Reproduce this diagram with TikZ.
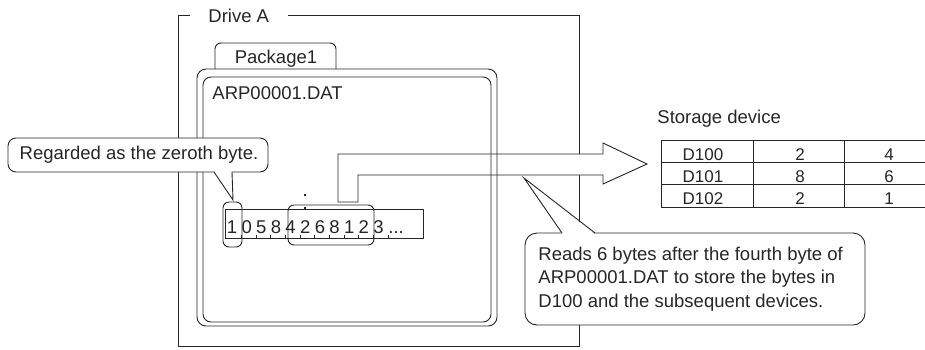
\documentclass[tikz,border=0pt]{standalone}
\usepackage{fontspec}
\setmainfont{Liberation Sans}
\begin{document}
\begin{tikzpicture}[x=1pt,y=-1pt,line width=0.9pt,black!85,
  lbl/.style={inner sep=0pt,font=\fontsize{18.5}{23.5}\selectfont},
  cell/.style={inner sep=0pt,font=\fontsize{17}{20}\selectfont,anchor=base}]
\useasboundingbox (0,0) rectangle (925,349);
\clip (0,0) rectangle (925,349);
% drive frame
\draw (190,15)--(178,15)--(178,346)--(579,346)--(579,15)--(288,15);
\node[lbl,anchor=base west] (drive) at (208,22) {Drive A};
% arrow
\draw[fill=white] (338,202)--(338,154)--(603,154)--(603,143)--(647,164)--(603,184)--(603,175)--(358,175)--(358,202)--cycle;
% package
\draw[rounded corners=6] (215,69)--(215,43)--(336,43)--(336,69);
\node[lbl,anchor=base] (pkg) at (276,63) {Package1};
\draw[rounded corners=9] (197,69) rectangle (497,326);
\draw[rounded corners=8] (203,77) rectangle (491,322);
\node[lbl,anchor=base west] (file) at (212,99) {ARP00001.DAT};
% byte strip
\draw[fill=white] (225,209) rectangle (423,238);
\foreach \k in {0,...,10} \draw[line width=0.7pt] (241.5+14.65*\k,238)--(241.5+14.65*\k,235);
\foreach \d [count=\i from 0] in {1,0,5,8,4,2,6,8,1,2,3}
  \node[lbl,anchor=base] (b\i) at (232+14.65*\i,233) {\d};
\node[lbl,anchor=base west] (more) at (388,233) {...};
\fill (304,194) rectangle (306,196);
\fill (304,207) rectangle (306,209);
\draw[rounded corners=6] (223,202) rectangle (242,247);
\draw[rounded corners=6] (288,205) rectangle (374,245);
% callout: zeroth byte
\draw[fill=white,rounded corners=8] (8,138) rectangle (268,172);
\fill[white] (214.5,171)--(233,200)--(231.5,171)--cycle;
\draw (214,172)--(233,200)--(232,172);
\node[lbl] (zeroth) at (139,155) {Regarded as the zeroth byte.};
% callout: reads
\draw[fill=white,rounded corners=12] (525,233) rectangle (865,325);
\fill[white] (562.5,234)--(524,178)--(594.5,234)--cycle;
\draw (562,233)--(524,178)--(595,233);
\node[lbl,anchor=west,align=left] (reads) at (538,279) {Reads 6 bytes after the fourth byte of\\ARP00001.DAT to store the bytes in\\D100 and the subsequent devices.};
% storage device
\node[lbl,anchor=base west] (storage) at (657,123) {Storage device};
\draw (661,140) rectangle (936,207);
\draw (661,162)--(936,162);
\draw (661,184)--(936,184);
\draw (753,140)--(753,207);
\draw (844,140)--(844,207);
\node[cell] (d100) at (703,160) {D100};
\node[cell] (d100a) at (800,160) {2};
\node[cell] (d100b) at (889,160) {4};
\node[cell] (d101) at (703,182) {D101};
\node[cell] (d101a) at (800,182) {8};
\node[cell] (d101b) at (889,182) {6};
\node[cell] (d102) at (703,204) {D102};
\node[cell] (d102a) at (800,204) {2};
\node[cell] (d102b) at (889,204) {1};
\end{tikzpicture}
\end{document}
